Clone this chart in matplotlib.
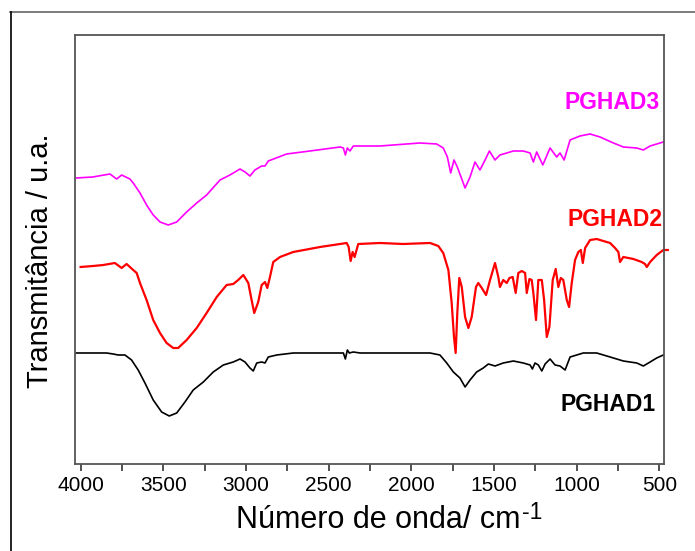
import matplotlib.pyplot as plt
from matplotlib.lines import Line2D

plt.rcParams['font.family'] = ['Liberation Sans', 'DejaVu Sans']

# Espectros FTIR (numero de onda em cm-1, transmitancia em u.a.)
wn_pghad3 = [4028, 3926, 3823, 3782, 3752, 3702, 3682, 3641, 3601, 3561, 3520, 3470,
             3419, 3359, 3298, 3238, 3157, 3097, 3036, 3006, 2976, 2946, 2905, 2885,
             2865, 2754, 2613, 2431, 2411, 2399, 2387, 2371, 2351, 2189, 1948, 1847,
             1807, 1782, 1762, 1742, 1722, 1675, 1645, 1615, 1585, 1554, 1528, 1494,
             1464, 1423, 1383, 1323, 1282, 1262, 1242, 1205, 1161, 1121, 1101, 1076,
             1040, 1010, 980, 919, 859, 778, 718, 637, 597, 556, 516, 476]
t_pghad3 = [286, 287, 290, 285, 289, 285, 281, 271, 259, 249, 242, 239,
            242, 252, 261, 269, 284, 289, 295, 292, 288, 294, 298, 298,
            303, 310, 313, 317, 316, 309, 316, 313, 318, 318, 321, 320,
            316, 307, 291, 304, 297, 276, 287, 302, 294, 304, 313, 304,
            309, 311, 313, 313, 311, 302, 312, 299, 316, 307, 311, 304,
            324, 326, 328, 330, 327, 321, 317, 316, 314, 318, 320, 322]

wn_pghad2 = [4000, 3924, 3863, 3793, 3752, 3722, 3682, 3661, 3641, 3601, 3561, 3520,
             3480, 3440, 3410, 3359, 3298, 3238, 3177, 3117, 3077, 3047, 3016, 2986,
             2966, 2950, 2926, 2905, 2885, 2871, 2855, 2835, 2794, 2714, 2552, 2391,
             2379, 2367, 2355, 2343, 2321, 2189, 2049, 1887, 1837, 1807, 1776, 1756,
             1742, 1732, 1722, 1710, 1695, 1675, 1655, 1635, 1609, 1595, 1574, 1548,
             1524, 1494, 1474, 1464, 1444, 1423, 1407, 1387, 1369, 1353, 1332, 1312,
             1302, 1286, 1272, 1262, 1246, 1232, 1211, 1197, 1181, 1165, 1145, 1127,
             1111, 1096, 1081, 1060, 1046, 1030, 1010, 990, 975, 963, 949, 919,
             879, 839, 798, 768, 748, 738, 718, 657, 607, 587, 576, 556,
             516, 476, 449]
t_pghad2 = [197, 198, 199, 201, 196, 200, 194, 191, 181, 164, 144, 131,
            121, 116, 116, 124, 136, 151, 167, 179, 180, 184, 189, 181,
            164, 151, 162, 179, 182, 176, 187, 202, 207, 212, 217, 221,
            217, 203, 212, 207, 220, 221, 220, 221, 218, 211, 194, 161,
            127, 111, 151, 186, 177, 147, 136, 147, 177, 181, 176, 169,
            184, 201, 187, 177, 184, 181, 186, 187, 171, 191, 193, 191,
            171, 185, 184, 171, 144, 184, 184, 164, 127, 137, 184, 195,
            177, 186, 184, 164, 157, 181, 204, 212, 214, 201, 216, 224,
            225, 223, 221, 216, 212, 202, 207, 205, 202, 200, 197, 202,
            209, 214, 214]

wn_pghad1 = [4028, 3843, 3803, 3773, 3732, 3692, 3652, 3611, 3561, 3510, 3464, 3419,
             3369, 3319, 3258, 3198, 3137, 3077, 3036, 3006, 2976, 2956, 2935, 2905,
             2885, 2865, 2814, 2714, 2411, 2399, 2387, 2375, 2351, 2310, 2189, 1887,
             1827, 1786, 1746, 1706, 1675, 1645, 1605, 1565, 1534, 1494, 1444, 1383,
             1323, 1282, 1268, 1252, 1232, 1211, 1191, 1161, 1131, 1101, 1070, 1040,
             1000, 960, 879, 798, 718, 637, 597, 556, 516, 476]
t_pghad1 = [111, 111, 110, 109, 109, 104, 94, 81, 64, 52, 48, 51,
            62, 74, 82, 92, 99, 102, 105, 102, 96, 93, 101, 102,
            101, 107, 109, 111, 111, 105, 114, 111, 112, 111, 111, 111,
            109, 101, 92, 86, 77, 84, 92, 96, 100, 98, 101, 103,
            101, 99, 95, 101, 99, 93, 100, 105, 99, 98, 94, 107,
            109, 111, 111, 107, 103, 101, 98, 102, 106, 109]

labels = ['PGHAD1', 'PGHAD2', 'PGHAD3']
colors = ['black', '#FF0000', '#FF00FF']

fig = plt.figure(figsize=(6.95, 5.51), dpi=100)
ax = fig.add_axes([0.1072, 0.1579, 0.8482, 0.7786])

ax.plot(wn_pghad3, t_pghad3, color=colors[2], lw=1.2)
ax.plot(wn_pghad2, t_pghad2, color=colors[1], lw=1.6, clip_on=False)
ax.plot(wn_pghad1, t_pghad1, color=colors[0], lw=1.2)

# rotulos das amostras
ax.text(496, 361, labels[2], color=colors[2], fontsize=16.5, fontweight='bold',
        ha='right', va='center')
ax.text(484, 244, labels[1], color=colors[1], fontsize=16.5, fontweight='bold',
        ha='right', va='center')
ax.text(520, 59, labels[0], color=colors[0], fontsize=16.5, fontweight='bold',
        ha='right', va='center')

ax.set_xlim(4037, 472)
ax.set_ylim(0, 429)
ax.set_xticks([4000, 3500, 3000, 2500, 2000, 1500, 1000, 500])
ax.set_xticks(range(750, 4000, 500), minor=True)
ax.set_yticks([])
ax.tick_params(axis='x', which='both', direction='out', length=5, width=1.2,
               labelsize=15, pad=4, color='#333333')

for s in ax.spines.values():
    s.set_color('#555555')
    s.set_linewidth(1.3)

ax.set_xlabel('Número de onda/ cm', fontsize=22)
ax.xaxis.set_label_coords(0.515, -0.096, transform=ax.transAxes)
ax.xaxis.label.set_va('top')
ax.annotate('-1', xy=(1.0, 1.0), xycoords=ax.xaxis.label, fontsize=16.5,
            xytext=(1, 3), textcoords='offset points', ha='left', va='top')

ax.set_ylabel('Transmitância / u.a.', fontsize=21)
ax.yaxis.set_label_coords(-0.034, 0.473)

# moldura externa
fig.add_artist(Line2D([10 / 695, 1.0], [1 - 12 / 551, 1 - 12 / 551],
                      transform=fig.transFigure, color='#666666', lw=1.2))
fig.add_artist(Line2D([11 / 695, 11 / 695], [0.0, 1 - 12 / 551],
                      transform=fig.transFigure, color='black', lw=1.2))

fig.savefig('out.png', dpi=100)
